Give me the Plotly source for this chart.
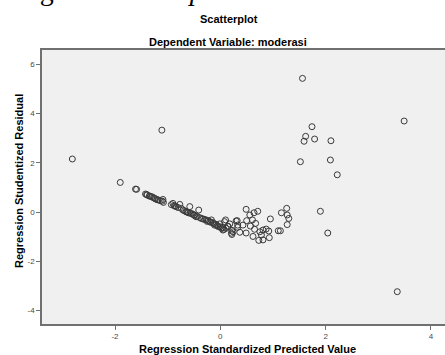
import plotly.graph_objects as go

# ---- data ----
pred_std = [
    -2.81, -1.90, -1.11, 1.56, 3.49, 1.74, 1.62, 1.59, 1.79, 2.10, 1.52, 2.09, 2.22, 1.90, 2.04, 3.36,
    -1.61, -1.59, -1.42, -1.39, -1.35, -1.30, -1.27, -1.23, -1.18, -1.14, -1.09, -1.08,
    -0.90, -0.88, -0.84, -0.77, -0.74, -0.71, -0.65, -0.58, -0.61, -0.55, -0.52, -0.49, -0.46, -0.41,
    -1.40, -1.33, -1.25, -1.20, -1.10, -0.93, -0.86, -0.80, -0.68, -0.63, -0.57, -0.50, -0.44,
    -0.39, -0.36, -0.33, -0.30, -0.27, -0.23, -0.20, -0.17, -0.14, -0.11, -0.08, -0.04, -0.01,
    0.02, 0.05, 0.08, 0.10, 0.11, 0.14, 0.15, 0.18, 0.21, 0.22, 0.22, 0.24, 0.30, 0.32, 0.33, 0.33,
    0.37, 0.43, 0.49, 0.49, 0.50, 0.56, 0.57, 0.61, 0.62, 0.64, 0.65, 0.67, 0.71, 0.73, 0.75, 0.78,
    0.81, 0.81, 0.87, 0.92, 0.93, 0.95, 1.10, 1.14, 1.16, 1.26, 1.27, 1.30, 1.27,
    -0.25, -0.18, -0.12, -0.06, 0.00, 0.04, 0.07,
]
resid_stud = [
    2.15, 1.20, 3.32, 5.42, 3.69, 3.46, 3.07, 2.87, 2.96, 2.89, 2.04, 2.11, 1.51, 0.03, -0.85, -3.23,
    0.93, 0.92, 0.73, 0.69, 0.65, 0.62, 0.58, 0.53, 0.49, 0.46, 0.51, 0.39,
    0.35, 0.26, 0.22, 0.31, 0.15, 0.08, 0.01, 0.22, -0.03, -0.06, -0.09, -0.14, -0.19, 0.08,
    0.71, 0.64, 0.56, 0.50, 0.44, 0.30, 0.24, 0.18, 0.05, 0.00, -0.05, -0.12, -0.17,
    -0.23, -0.26, -0.28, -0.30, -0.32, -0.35, -0.39, -0.32, -0.43, -0.53, -0.50, -0.59, -0.48,
    -0.66, -0.73, -0.39, -0.32, -0.66, -0.57, -0.59, -0.48, -0.86, -0.74, -0.91, -0.80, -0.36, -0.35, -0.62, -0.53,
    -0.82, -0.53, -0.85, 0.11, -0.35, -0.12, -0.57, -0.32, -0.99, -0.03, -0.70, -0.46, 0.03, -1.15, -0.80, -0.93,
    -1.13, -0.73, -0.69, -0.77, -1.04, -0.28, -0.76, -0.76, -0.03, 0.15, -0.12, -0.26, -0.51,
    -0.38, -0.42, -0.47, -0.55, -0.60, -0.63, -0.70,
]
x_ticks = [-2, 0, 2, 4]
y_ticks = [-4, -2, 0, 2, 4, 6]

chart_title = "Scatterplot"
chart_subtitle = "Dependent Variable: moderasi"
x_title = "Regression Standardized Predicted Value"
y_title = "Regression Studentized Residual"
doc_text = "nilai grafik <i>scatterplot</i> adalah:"

W, H = 445, 355
L, R, T, B = 42, 0, 50, 31
plot_h = H - T - B
plot_w = W - L - R


def py(pix):
    return (H - B - pix) / plot_h


def px(pix):
    return (pix - L) / plot_w


fig = go.Figure()
fig.add_trace(go.Scatter(
    x=pred_std, y=resid_stud, mode="markers",
    marker=dict(symbol="circle-open", size=6, color="#3a3a3a", line=dict(width=1)),
    hoverinfo="x+y", showlegend=False,
))

axis_font = dict(family="Liberation Sans, Arial, sans-serif", size=8, color="#4a4a4a")
fig.update_layout(
    width=W, height=H,
    margin=dict(l=L, r=R, t=T, b=B, pad=0),
    paper_bgcolor="white",
    plot_bgcolor="#F0F0F0",
    font=dict(family="Liberation Sans, Arial, sans-serif"),
    xaxis=dict(
        range=[-3.386, 4.266], tickvals=x_ticks, ticktext=[str(v) for v in x_ticks],
        showgrid=False, zeroline=False, showline=True, linecolor="#707070", linewidth=1.5,
        mirror=True, ticks="outside", ticklen=4, tickcolor="#707070", tickwidth=1,
        tickfont=axis_font, automargin=False,
    ),
    yaxis=dict(
        range=[-4.54, 6.57], tickvals=y_ticks, ticktext=[str(v) for v in y_ticks],
        showgrid=False, zeroline=False, showline=True, linecolor="#707070", linewidth=1.5,
        mirror=False, ticks="outside", ticklen=4, tickcolor="#707070", tickwidth=1,
        tickfont=axis_font, automargin=False,
    ),
    annotations=[
        dict(text=doc_text, xref="paper", yref="paper", x=px(323), y=py(-10),
             xanchor="right", yanchor="middle", showarrow=False,
             font=dict(family="Liberation Serif, Times New Roman, serif", size=28, color="black")),
        dict(text="<b>%s</b>" % chart_title, xref="paper", yref="paper", x=px(229), y=py(18.5),
             xanchor="center", yanchor="middle", showarrow=False,
             font=dict(size=11, color="black")),
        dict(text="<b>%s</b>" % chart_subtitle, xref="paper", yref="paper", x=px(228), y=py(42),
             xanchor="center", yanchor="middle", showarrow=False,
             font=dict(size=11, color="black")),
        dict(text="<b>%s</b>" % x_title, xref="paper", yref="paper", x=px(247.5), y=py(349),
             xanchor="center", yanchor="middle", showarrow=False,
             font=dict(size=11, color="black")),
        dict(text="<b>%s</b>" % y_title, xref="paper", yref="paper", x=px(18.5), y=py(181.5),
             xanchor="center", yanchor="middle", showarrow=False, textangle=-90,
             font=dict(size=11, color="black")),
    ],
)

fig.write_html(
    "out.html",
    config={"displayModeBar": False},
    post_script="document.body.style.margin='0';document.body.style.overflow='hidden';",
)
